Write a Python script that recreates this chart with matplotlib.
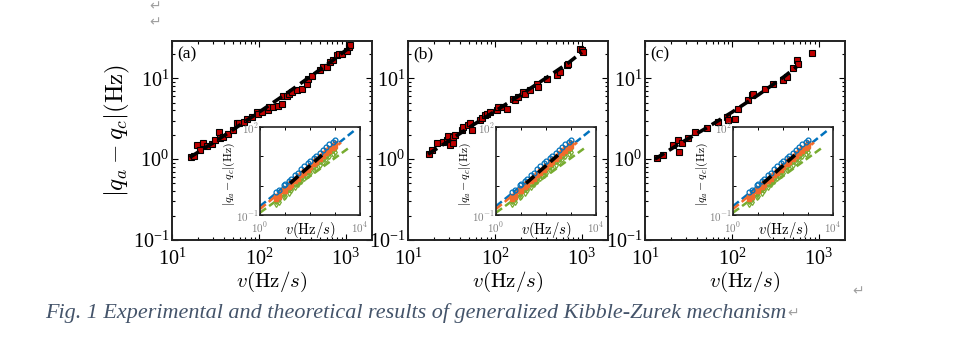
import matplotlib.pyplot as plt
import numpy as np

plt.rcParams['mathtext.fontset'] = 'cm'
plt.rcParams['font.family'] = ['Liberation Serif', 'DejaVu Sans']

# --- main panel data: (v, |qa-qc|) ---
a_v = [16.5, 17.9, 19.2, 21, 22.9, 25.5, 28.6, 31.2, 35, 35.6, 38.9, 44.4, 50.7,
       55.4, 59.4, 67.2, 72.2, 82.4, 94, 98, 107, 128, 131, 146, 167, 182, 190,
       208, 223, 239, 271, 309, 353, 369, 403, 502, 548, 600, 655, 715, 781,
       838, 891, 1019, 1092, 1112]
a_q = [1.07, 1.09, 1.49, 1.29, 1.56, 1.45, 1.53, 1.72, 2.17, 1.8, 1.89, 2.02, 2.28,
       2.8, 2.76, 2.88, 3.09, 3.27, 3.84, 3.66, 3.84, 4.03, 4.43, 4.43, 4.51, 4.77,
       6.0, 6.0, 6.47, 6.78, 7.1, 7.45, 8.6, 9.9, 10.6, 12.6, 13.6, 13.8, 15.9, 17,
       19.2, 20.2, 19.8, 21.7, 24.3, 25.5]

b_v = [17.6, 18.7, 21.4, 25.5, 27.8, 29, 30.4, 33.2, 33.2, 34.7, 41.4, 43.2, 49.3,
       51.6, 54, 67.2, 70.3, 76.7, 80.2, 87.6, 105, 109, 125, 136, 162, 170, 185,
       212, 221, 252, 301, 315, 393, 512, 558, 667, 697, 948, 993, 1035]
b_q = [1.17, 1.29, 1.56, 1.64, 1.72, 1.92, 1.49, 1.56, 1.89, 1.98, 2.28, 2.5, 2.63,
       2.76, 2.28, 3.03, 3.18, 3.49, 3.66, 3.84, 4.03, 4.43, 4.43, 4.22, 5.61, 5.35,
       5.88, 6.78, 6.47, 7.24, 8.6, 7.8, 9.9, 10.9, 12, 14.5, 15.2, 23.2, 22.2, 21.1]

c_v = [13.6, 16.2, 21.2, 24.2, 24.8, 26.4, 31.5, 37.6, 51.2, 69.6, 86.9, 90.7, 108,
       118, 154, 168, 176, 239, 298, 389, 425, 507, 555, 578, 824]
c_q = [1.04, 1.12, 1.49, 1.72, 1.23, 1.56, 1.8, 2.17, 2.39, 2.88, 3.33, 3.03, 3.09,
       4.22, 5.35, 6.17, 6.47, 7.45, 8.6, 9.44, 10.4, 13.2, 17, 15.2, 20.5]

# theory (black dashed) curves
a_fit_v = [16, 30, 50, 100, 200, 400, 700, 1100]
a_fit_q = [1.05, 1.6, 2.3, 3.8, 6.3, 10.7, 16.5, 24]
b_fit_v = [17, 30, 50, 100, 200, 400, 700, 1000]
b_fit_q = [1.15, 1.7, 2.45, 3.9, 6.3, 10.3, 15.5, 21]
c_fit_v = [13, 25, 50, 100, 200, 400, 560]
c_fit_q = [1.0, 1.55, 2.4, 3.8, 6.2, 10.5, 14]

# --- inset data ---
in_v = [4.5, 5.5, 9, 10, 14, 18, 25, 32, 45, 60, 80, 100, 140, 180, 250, 320,
        450, 600, 800, 1000]
in_blue = [0.62, 0.7, 1.05, 1.1, 1.4, 1.75, 2.3, 2.8, 3.6, 4.6, 5.8, 6.8, 8.8, 10.5,
           13.5, 16.5, 21, 26, 32, 37]
in_orange = [0.45, 0.52, 0.8, 0.85, 1.1, 1.35, 1.75, 2.1, 2.8, 3.5, 4.4, 5.2, 6.7, 8,
             10.3, 12.5, 16, 19.5, 24, 28]
in_orange2 = [0.36, 0.42, 0.64, 0.68, 0.88, 1.08, 1.4, 1.7, 2.25, 2.8, 3.5, 4.2, 5.4,
              6.4, 8.2, 10, 12.8, 15.6, 19.2, 22.4]
in_green = [0.3, 0.35, 0.55, 0.6, 0.75, 0.9, 1.18, 1.45, 1.85, 2.35, 2.95, 3.5, 4.4,
            5.3, 6.8, 8.3, 10.5, 13, 16, 18.6]
in_green2 = [0.23, 0.27, 0.42, 0.46, 0.58, 0.7, 0.9, 1.1, 1.42, 1.8, 2.25, 2.65, 3.4,
             4.0, 5.2, 6.3, 8.0, 9.9, 12.2, 14.2]
line_blue_v, line_blue_q = [1, 5700], [0.2, 74]
line_orange_v, line_orange_q = [1, 1740], [0.16, 29.5]
line_green_v, line_green_q = [1, 3600], [0.12, 19.5]
line_black_v, line_black_q = [16, 300], [1.2, 11]

M_BLUE = '#0072BD'
M_ORANGE = '#F26B2C'
M_GREEN = '#77AC30'
GREY_TXT = '#808080'

fig = plt.figure(figsize=(9.74, 3.43), dpi=100)
fig.patch.set_facecolor('white')

panels = [
    (172, '(a)', a_v, a_q, a_fit_v, a_fit_q),
    (408, '(b)', b_v, b_q, b_fit_v, b_fit_q),
    (645, '(c)', c_v, c_q, c_fit_v, c_fit_q),
]
W, H = 974, 343

for i, (x0, tag, v, q, fv, fq) in enumerate(panels):
    ax = fig.add_axes([x0 / W, 1 - 240 / H, 200 / W, 199 / H])
    ax.loglog(fv, fq, color='black', ls=(0, (3, 1.6)), lw=2.6, zorder=3)
    ax.loglog(v, q, 's', ms=4, mfc='#C00000', mec='black', mew=0.8, zorder=2)
    ax.set_xlim(10, 10 ** 3.3)
    ax.set_ylim(0.1, 10 ** 1.46)
    ax.set_xticks([10, 100, 1000])
    ax.set_yticks([0.1, 1, 10])
    ax.tick_params(which='both', direction='in', top=True, right=True,
                   labelsize=14.5, width=0.8)
    ax.tick_params(which='major', length=4)
    ax.tick_params(which='minor', length=2)
    ax.tick_params(axis='x', pad=6)
    ax.tick_params(axis='y', pad=2)
    for s in ax.spines.values():
        s.set_linewidth(1.4)
        s.set_color('#222222')
    ax.set_xlabel(r'$v(\mathrm{Hz}/s)$', fontsize=15, labelpad=0)
    if i == 0:
        ax.set_ylabel(r'$|q_a-q_c|(\mathrm{Hz})$', fontsize=18)
        ax.yaxis.set_label_coords(-0.2, 0.55)
    ax.text(0.025, 0.975, tag, transform=ax.transAxes, ha='left', va='top',
            fontsize=12.5)

    # inset
    ia = fig.add_axes([(x0 + 88) / W, 1 - 215 / H, 100 / W, 88 / H])
    for lv, lq, c in [(line_blue_v, line_blue_q, M_BLUE),
                      (line_orange_v, line_orange_q, M_ORANGE),
                      (line_green_v, line_green_q, M_GREEN)]:
        ia.loglog(lv, lq, color=c, ls=(0, (3, 1.5)), lw=1.8, zorder=2)
    ia.loglog(in_v, in_green2, 'd', ms=3, mfc='none', mec=M_GREEN, mew=0.9, zorder=3)
    ia.loglog(in_v, in_green, 'd', ms=3, mfc='none', mec=M_GREEN, mew=0.9, zorder=3)
    ia.loglog(in_v, in_orange2, 's', ms=3, mfc=M_ORANGE, mec=M_ORANGE, zorder=4)
    ia.loglog(in_v, in_orange, 's', ms=3, mfc=M_ORANGE, mec=M_ORANGE, zorder=4)
    ia.loglog(in_v, in_blue, 'o', ms=3.5, mfc='none', mec=M_BLUE, mew=0.9, zorder=4)
    ia.loglog(line_black_v, line_black_q, color='black', ls=(0, (3, 1.5)), lw=2.6,
              zorder=5)
    ia.set_xlim(1, 1e4)
    ia.set_ylim(0.1, 100)
    ia.set_xticks([1, 10, 100, 1000, 1e4])
    ia.set_xticklabels([r'$10^0$', '', '', '', r'$10^4$'])
    ia.set_yticks([0.1, 1, 10, 100])
    ia.set_yticklabels([r'$10^{-1}$', '', '', r'$10^2$'])
    ia.minorticks_off()
    ia.tick_params(which='both', direction='in', top=True, right=True,
                   labelsize=8, labelcolor=GREY_TXT, length=2.5, width=0.7, pad=1)
    ia.tick_params(axis='x', pad=4)
    for s in ia.spines.values():
        s.set_linewidth(1.2)
        s.set_color('#222222')
    ia.set_xlabel(r'$v(\mathrm{Hz}/s)$', fontsize=10.5, labelpad=-11)
    ia.set_ylabel(r'$|q_a-q_c|(\mathrm{Hz})$', fontsize=8.5)
    ia.yaxis.set_label_coords(-0.23, 0.47)

# word-document artefacts and caption
fig.text(45 / W, 1 - 313 / H,
         'Fig. 1 Experimental and theoretical results of generalized Kibble-Zurek mechanism',
         fontsize=15.9, style='italic', color='#44546A', ha='left', va='center')
for (px, py) in [(155, 22), (155, 6), (858, 291), (793, 313)]:
    fig.text(px / W, 1 - py / H, '\u21b5', fontsize=10, color='#A0A0A0',
             ha='center', va='center', family='DejaVu Sans')

fig.savefig('out.png', dpi=100, facecolor='white')
print('saved out.png')
